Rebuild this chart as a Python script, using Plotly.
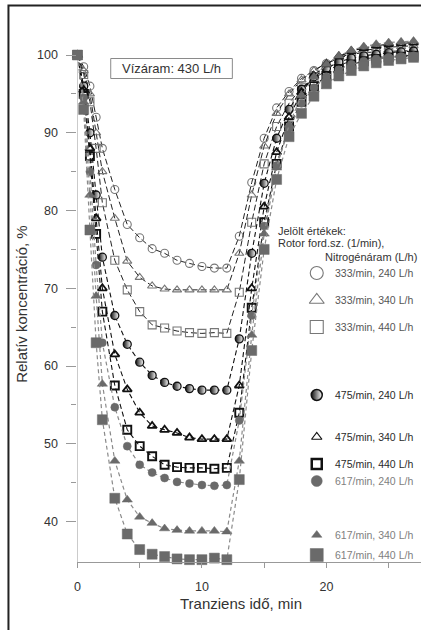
import plotly.graph_objects as go

# Measurement times (min) and relative concentrations (%) for each setting
time_min = [0, 0.5, 1, 1.5, 2, 3, 4, 5, 6, 7, 8, 9, 10, 11, 12,
            13, 14, 15, 16, 17, 18, 19, 20, 21, 22, 23, 24, 25, 26, 27]

rel_333_240 = [100, 98.5, 96, 92, 88.0, 82.7, 78.2, 76.5, 75.1, 74.5, 73.6, 73.2, 72.8, 72.6, 72.6,
               76.7, 83.6, 89.3, 93.2, 95.3, 97.0, 98.0, 98.9, 99.6, 100.1, 100.3, 100.4, 100.5, 100.5, 100.6]
rel_333_340 = [100, 98, 95, 90, 85, 79, 73.5, 71.4, 70.3, 69.9, 69.8, 69.8, 69.8, 69.8, 69.8,
               74.5, 82, 88.3, 92.5, 95.0, 96.8, 98.0, 99.0, 99.7, 100.2, 100.6, 100.8, 101.0, 101.1, 101.2]
rel_333_440 = [100, 97.5, 94, 88, 81, 73.6, 69.8, 67.0, 65.3, 64.9, 64.5, 64.3, 64.2, 64.3, 64.2,
               69.5, 78.5, 86.0, 90.8, 93.8, 95.8, 97.0, 98.0, 98.7, 99.2, 99.5, 99.7, 99.8, 99.9, 100.0]
rel_475_240 = [100, 96, 90, 82, 74, 66.5, 62.8, 60.5, 58.8, 57.9, 57.4, 57.1, 56.9, 56.9, 56.9,
               63.5, 74.5, 83.5, 89.3, 93.0, 95.6, 97.2, 98.3, 99.1, 99.6, 99.9, 100.1, 100.3, 100.4, 100.5]
rel_475_340 = [100, 95.5, 88, 79, 70, 61.5, 57, 54.0, 52.3, 51.8, 51.4, 50.8, 50.6, 50.6, 50.6,
               57.5, 70, 80.5, 87.5, 92, 95.2, 97.3, 98.8, 99.8, 100.5, 100.9, 101.2, 101.4, 101.5, 101.6]
rel_475_440 = [100, 95, 87, 77, 67, 57.5, 51.8, 49.7, 48.4, 47.3, 47.0, 46.9, 46.9, 46.8, 46.9,
               54.0, 67.5, 78.5, 86.0, 90.8, 94.0, 96.0, 97.3, 98.2, 98.8, 99.2, 99.5, 99.7, 99.8, 99.9]
rel_617_240 = [100, 94.5, 85, 73, 63, 54.7, 49.7, 47.3, 46.3, 45.6, 45.1, 44.9, 44.7, 44.6, 44.7,
               53, 66.5, 78, 85.8, 90.5, 93.8, 95.8, 97.2, 98.1, 98.8, 99.2, 99.5, 99.7, 99.8, 99.9]
rel_617_340 = [100, 94, 82, 69, 57.7, 47.8, 42.8, 40.6, 39.8, 39.1, 38.9, 38.8, 38.8, 38.8, 38.7,
               47.8, 64, 77, 85.5, 91, 94.8, 97.2, 98.8, 99.9, 100.6, 101.1, 101.4, 101.6, 101.7, 101.8]
rel_617_440 = [100, 93, 77.5, 63, 53.1, 43.0, 38.4, 36.4, 35.8, 35.5, 35.2, 35.1, 35.1, 35.3, 35.1,
               45.4, 62, 75, 84, 89.5, 92.5, 94.7, 96.3, 97.3, 98.0, 98.6, 99.0, 99.3, 99.5, 99.7]

series_labels = ["333/min, 240 L/h", "333/min, 340 L/h", "333/min, 440 L/h",
                 "475/min, 240 L/h", "475/min, 340 L/h", "475/min, 440 L/h",
                 "617/min, 240 L/h", "617/min, 340 L/h", "617/min, 440 L/h"]
series_values = [rel_333_240, rel_333_340, rel_333_440,
                 rel_475_240, rel_475_340, rel_475_440,
                 rel_617_240, rel_617_340, rel_617_440]

x_ticks = [0, 10, 20]
y_ticks = [40, 50, 60, 70, 80, 90, 100]

# ---- styles -------------------------------------------------------------
W, H = 421, 630
FONT = "Liberation Sans, Arial, sans-serif"
GRAY_OPEN = "#777777"
GRAY_FILL = "#6a6a6a"

marker_styles = [
    dict(symbol="circle-open", size=8, color=GRAY_OPEN, line=dict(width=1.1, color=GRAY_OPEN)),
    dict(symbol="triangle-up-open", size=8, color=GRAY_OPEN, line=dict(width=1.1, color=GRAY_OPEN)),
    dict(symbol="square-open", size=8, color=GRAY_OPEN, line=dict(width=1.1, color=GRAY_OPEN)),
    dict(symbol="circle", size=8, color="#111111", line=dict(width=1.3, color="#111111"),
         gradient=dict(type="horizontal", color="#ffffff")),
    dict(symbol="triangle-up-open", size=8, color="#111111", line=dict(width=1.8, color="#111111")),
    dict(symbol="square-open", size=8, color="#111111", line=dict(width=1.9, color="#111111")),
    dict(symbol="circle", size=8, color=GRAY_FILL, line=dict(width=0.5, color=GRAY_FILL)),
    dict(symbol="triangle-up", size=9, color=GRAY_FILL, line=dict(width=0.5, color=GRAY_FILL)),
    dict(symbol="square", size=10, color=GRAY_FILL, line=dict(width=0.5, color=GRAY_FILL)),
]
line_styles = [
    dict(color="#222222", width=1, dash="6px,3px"),
    dict(color="#222222", width=1, dash="6px,3px"),
    dict(color="#222222", width=1, dash="6px,3px"),
    dict(color="#111111", width=1.1, dash="5px,3px"),
    dict(color="#111111", width=1.1, dash="5px,3px"),
    dict(color="#111111", width=1.1, dash="5px,3px"),
    dict(color="#8a8a8a", width=1.2, dash="4px,3px"),
    dict(color="#8a8a8a", width=1.2, dash="4px,3px"),
    dict(color="#8a8a8a", width=1.2, dash="4px,3px"),
]

# legend block layout (pixel positions within the figure)
legend_glyph_x = 316
legend_text_x = 332
legend_rows_y = [273, 300, 327, 395, 437, 464, 481, 535, 555]
legend_glyphs = [
    dict(symbol="circle-open", size=13, color=GRAY_OPEN, line=dict(width=1.1, color=GRAY_OPEN)),
    dict(symbol="triangle-up-open", size=13, color=GRAY_OPEN, line=dict(width=1.1, color=GRAY_OPEN)),
    dict(symbol="square-open", size=13, color=GRAY_OPEN, line=dict(width=1.1, color=GRAY_OPEN)),
    dict(symbol="circle", size=11, color="#111111", line=dict(width=1.5, color="#111111"),
         gradient=dict(type="horizontal", color="#ffffff")),
    dict(symbol="triangle-up-open", size=9, color="#111111", line=dict(width=1.2, color="#111111")),
    dict(symbol="square-open", size=10, color="#111111", line=dict(width=2.5, color="#111111")),
    dict(symbol="circle", size=11, color=GRAY_FILL, line=dict(width=0.5, color=GRAY_FILL)),
    dict(symbol="triangle-up", size=9, color=GRAY_FILL, line=dict(width=0.5, color=GRAY_FILL)),
    dict(symbol="square", size=13, color=GRAY_FILL, line=dict(width=0.5, color=GRAY_FILL)),
]
legend_text_colors = ["#555555"] * 3 + ["#2a2a2a"] * 3 + ["#808080"] * 3

# plot area in pixels
PX_LEFT, PX_BOTTOM, PX_TOP = 75, 562, 31.7
X_RANGE = [0, 27.6]
Y_RANGE = [34.8, 103.0]
Y_LINE_TOP = 100.4

fig = go.Figure()

for vals, lab, mk, ln in zip(series_values, series_labels, marker_styles, line_styles):
    fig.add_trace(go.Scatter(
        x=time_min, y=vals, name=lab, mode="lines+markers",
        marker=mk, line=ln, cliponaxis=False, showlegend=False,
        xaxis="x", yaxis="y",
    ))

# legend glyphs on a pixel-coordinate overlay
for ypix, g in zip(legend_rows_y, legend_glyphs):
    fig.add_trace(go.Scatter(
        x=[legend_glyph_x], y=[ypix], mode="markers", marker=g,
        cliponaxis=False, showlegend=False, hoverinfo="skip",
        xaxis="x2", yaxis="y2",
    ))

annotations = []
for ypix, lab, col in zip(legend_rows_y, series_labels, legend_text_colors):
    annotations.append(dict(x=legend_text_x, y=ypix, xref="x2", yref="y2", text=lab,
                            showarrow=False, xanchor="left", yanchor="middle",
                            font=dict(family=FONT, size=10.5, color=col)))

annotations += [
    dict(x=275, y=231, xref="x2", yref="y2", text="Jelölt értékek:", showarrow=False,
         xanchor="left", yanchor="middle", font=dict(family=FONT, size=11, color="#333333")),
    dict(x=275, y=243, xref="x2", yref="y2", text="Rotor ford.sz. (1/min),", showarrow=False,
         xanchor="left", yanchor="middle", font=dict(family=FONT, size=11, color="#333333")),
    dict(x=419, y=257, xref="x2", yref="y2", text="Nitrogénáram (L/h)", showarrow=False,
         xanchor="right", yanchor="middle", font=dict(family=FONT, size=11, color="#333333")),
    dict(x=170, y=68, xref="x2", yref="y2", text="Vízáram: 430 L/h", showarrow=False,
         xanchor="center", yanchor="middle", font=dict(family=FONT, size=13, color="#333333")),
    dict(x=240, y=603, xref="x2", yref="y2", text="Tranziens idő, min", showarrow=False,
         xanchor="center", yanchor="middle", font=dict(family=FONT, size=15, color="#333333")),
    dict(x=18, y=304, xref="x2", yref="y2", text="Relatív koncentráció, %", showarrow=False,
         textangle=-90, xanchor="center", yanchor="middle",
         font=dict(family=FONT, size=15, color="#333333")),
]

shapes = [
    # outer frame
    dict(type="rect", xref="x2", yref="y2", x0=5.5, y0=5.5, x1=440, y1=650,
         line=dict(color="#222222", width=2), layer="above"),
    # box around the water-flow note
    dict(type="rect", xref="x2", yref="y2", x0=108.5, y0=58.5, x1=231, y1=78.5,
         line=dict(color="#8a8a8a", width=1), layer="below"),
    # vertical axis line
    dict(type="line", xref="x", yref="y", x0=0, x1=0, y0=Y_RANGE[0], y1=Y_LINE_TOP,
         line=dict(color="#999999", width=1), layer="below"),
]

fig.update_layout(
    width=W, height=H,
    margin=dict(l=0, r=0, t=0, b=0),
    paper_bgcolor="white", plot_bgcolor="rgba(0,0,0,0)",
    showlegend=False,
    font=dict(family=FONT, color="#333333"),
    xaxis=dict(
        domain=[PX_LEFT / W, 1], range=X_RANGE, showgrid=False, zeroline=False,
        showline=True, linecolor="#999999", linewidth=1,
        tickmode="array", tickvals=x_ticks, ticks="outside", ticklen=5,
        tickcolor="#999999", tickfont=dict(family=FONT, size=12.5, color="#333333"),
        ticklabelstandoff=8,
        minor=dict(dtick=5, tick0=0, ticks="outside", ticklen=5, tickcolor="#999999"),
    ),
    yaxis=dict(
        domain=[1 - PX_BOTTOM / H, 1 - PX_TOP / H], range=Y_RANGE, showgrid=False,
        zeroline=False, showline=False,
        tickmode="array", tickvals=y_ticks, ticks="outside", ticklen=10,
        tickcolor="#999999", tickfont=dict(family=FONT, size=12.5, color="#333333"),
        ticklabelstandoff=6,
        minor=dict(tickvals=[45, 55, 65, 75, 85, 95], ticks="outside", ticklen=5,
                   tickcolor="#999999"),
    ),
    xaxis2=dict(domain=[0, 1], range=[0, W], visible=False, anchor="y2", fixedrange=True),
    yaxis2=dict(domain=[0, 1], range=[H, 0], visible=False, anchor="x2", fixedrange=True),
    annotations=annotations,
    shapes=shapes,
)

fig.write_html("out.html")
